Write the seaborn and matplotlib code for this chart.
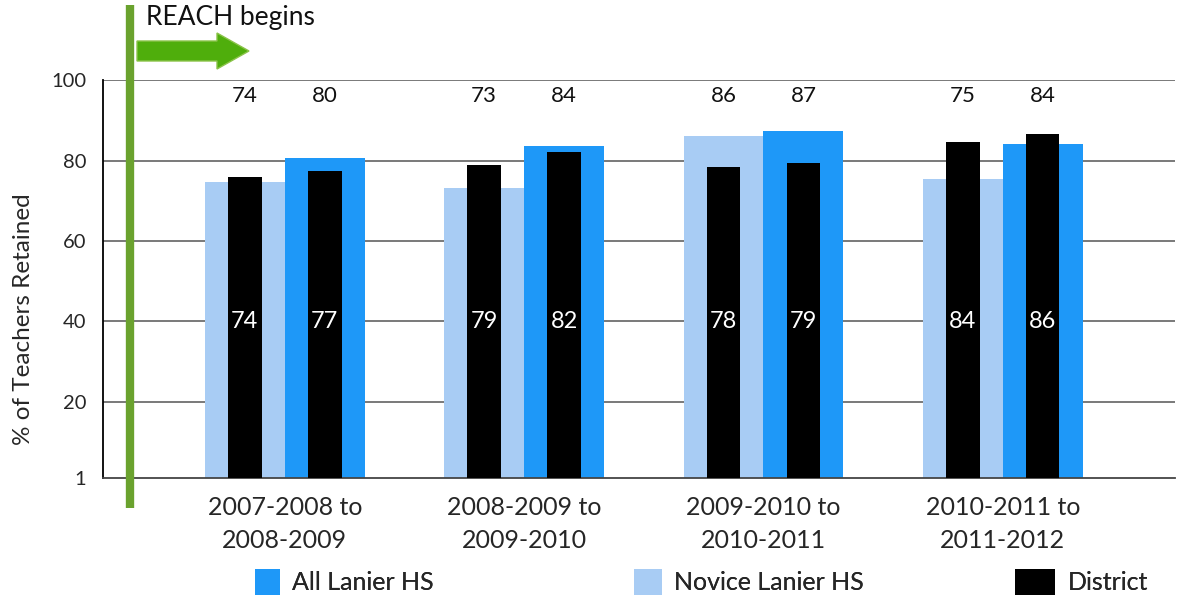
import matplotlib
matplotlib.use("Agg")
import matplotlib.pyplot as plt
import seaborn as sns
import pandas as pd
from matplotlib.patches import Patch, FancyArrow
from matplotlib.lines import Line2D

# ---- data ----
periods = ["2007-2008 to\n2008-2009", "2008-2009 to\n2009-2010",
           "2009-2010 to\n2010-2011", "2010-2011 to\n2011-2012"]
novice = [74.7, 73.2, 86.0, 75.5]
all_lanier = [80.5, 83.7, 87.4, 84.2]
novice_labels = ["74", "73", "86", "75"]
all_labels = ["80", "84", "87", "84"]
district_vs_novice = [76.0, 79.0, 78.5, 84.7]
district_vs_all = [77.5, 82.0, 79.5, 86.7]
district_novice_labels = ["74", "79", "78", "84"]
district_all_labels = ["77", "82", "79", "86"]
yticks = [1, 20, 40, 60, 80, 100]

BLUE = "#1E98F8"
LIGHT = "#A8CCF4"
GREEN = "#6AA22E"

sns.set_theme(style="white")
plt.rcParams["font.family"] = ["Lato", "DejaVu Sans"]

fig = plt.figure(figsize=(11.78, 5.98), dpi=100)
ax = fig.add_axes([0.0874, 0.2007, 0.9101, 0.6653])

main = pd.DataFrame({
    "period": periods * 2,
    "series": ["Novice Lanier HS"] * 4 + ["All Lanier HS"] * 4,
    "value": novice + all_lanier,
})
dist = pd.DataFrame({
    "period": periods * 2,
    "slot": ["Novice Lanier HS"] * 4 + ["All Lanier HS"] * 4,
    "value": district_vs_novice + district_vs_all,
})

sns.barplot(data=main, x="period", y="value", hue="series",
            hue_order=["Novice Lanier HS", "All Lanier HS"],
            palette=[LIGHT, BLUE], width=0.668, order=periods,
            saturation=1, legend=False, ax=ax, zorder=2)
n_main = len(ax.containers)
sns.barplot(data=dist, x="period", y="value", hue="slot",
            hue_order=["Novice Lanier HS", "All Lanier HS"],
            palette=["black", "black"], width=0.668, order=periods,
            saturation=1, legend=False, ax=ax, zorder=3)

for p in ax.patches:
    p.set_linewidth(0)

main_conts = ax.containers[:n_main]
dist_conts = ax.containers[n_main:]
narrow = 0.14
for cont in dist_conts:
    for p in cont:
        c = p.get_x() + p.get_width() / 2
        p.set_width(narrow)
        p.set_x(c - narrow / 2)

# labels above the groups
for cont, labs in zip(main_conts, [novice_labels, all_labels]):
    for p, t in zip(cont, labs):
        ax.text(p.get_x() + p.get_width() / 2, 96, t, ha="center",
                va="center", fontsize=16, color="#111111")
# labels inside district bars
for cont, labs in zip(dist_conts, [district_novice_labels, district_all_labels]):
    for p, t in zip(cont, labs):
        ax.text(p.get_x() + p.get_width() / 2, 40, t, ha="center",
                va="center", fontsize=17, color="white", zorder=5)

ax.set_ylim(1, 100)
ax.set_xlim(-0.76, 3.72)
ax.set_yticks(yticks)
ax.set_yticklabels([str(v) for v in yticks], fontsize=14.5)
ax.tick_params(axis="y", length=0, pad=12)
ax.tick_params(axis="x", length=0, pad=13)
for lab in ax.get_xticklabels():
    lab.set_fontsize(18)
    lab.set_linespacing(1.55)
ax.set_xlabel("")
ax.set_ylabel("% of Teachers Retained", fontsize=17.5)
ax.yaxis.set_label_coords(-0.064, 0.4)
for y in [20, 40, 60, 80, 100]:
    ax.axhline(y, color="#555555", lw=1.1, zorder=1)
for s in ["top", "right"]:
    ax.spines[s].set_visible(False)
ax.spines["left"].set_color("black")
ax.spines["left"].set_linewidth(1.3)
ax.spines["bottom"].set_color("#444444")
ax.spines["bottom"].set_linewidth(1.3)

# REACH annotation: vertical green line and arrow
fig.add_artist(Line2D([130 / 1178, 130 / 1178], [1 - 5 / 598, 1 - 508 / 598],
                      color=GREEN, lw=6, solid_capstyle="butt"))
fig.text(146 / 1178, 1 - 18 / 598, "REACH begins", fontsize=19,
         ha="left", va="center", color="#111111")
fig.add_artist(FancyArrow(137 / 1178, 1 - 51 / 598, 80 / 1178, 0,
                          width=20 / 598, head_width=36 / 598,
                          head_length=32 / 1178, length_includes_head=False,
                          facecolor="#4FAE0C", edgecolor="#8BC34A", lw=1,
                          transform=fig.transFigure))

# legend (three separate entries)
entries = [("All Lanier HS", BLUE, 255, 1.0), ("Novice Lanier HS", LIGHT, 634, 1.1),
           ("District", "black", 1015, 1.6)]
for name, col, xpx, hl in entries:
    lg = fig.legend(handles=[Patch(facecolor=col, edgecolor="none", label=name)],
                    loc="center left", bbox_to_anchor=(xpx / 1178, 1 - 582 / 598),
                    frameon=False, fontsize=18, handlelength=hl, handleheight=1.2,
                    handletextpad=0.5, borderpad=0, borderaxespad=0)
    fig.add_artist(lg)

fig.savefig("out.png", dpi=100)
